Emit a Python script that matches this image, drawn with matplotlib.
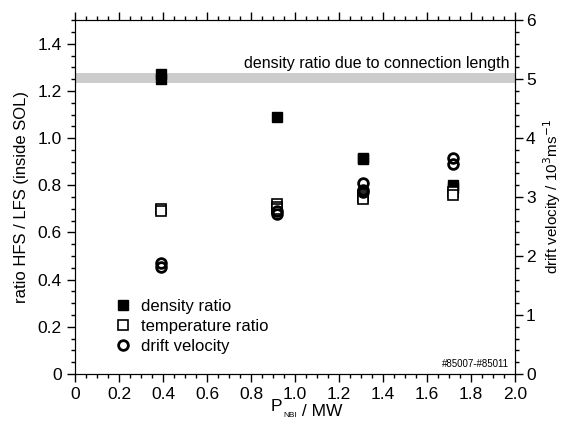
import matplotlib
matplotlib.use("Agg")
import matplotlib.pyplot as plt
from matplotlib.ticker import MultipleLocator

plt.rcParams['font.family'] = ['Liberation Sans', 'DejaVu Sans']
plt.rcParams['font.size'] = 11

# ------------ data ------------
p_dens = [0.39, 0.39, 0.92, 1.31, 1.31, 1.72, 1.72]
dens_ratio = [1.27, 1.25, 1.09, 0.915, 0.91, 0.80, 0.79]

p_temp = [0.39, 0.39, 0.92, 0.92, 0.92, 1.31, 1.31, 1.31, 1.72, 1.72]
temp_ratio = [0.70, 0.69, 0.72, 0.71, 0.70, 0.76, 0.75, 0.74, 0.77, 0.76]

p_drift = [0.39, 0.39, 0.92, 0.92, 1.31, 1.31, 1.31, 1.72, 1.72]
drift_vel = [1.88, 1.82, 2.76, 2.72, 3.24, 3.12, 3.08, 3.66, 3.56]  # 10^3 m/s

band_lo, band_hi = 1.232, 1.274

xt = [0, 0.2, 0.4, 0.6, 0.8, 1.0, 1.2, 1.4, 1.6, 1.8, 2.0]
yt = [0, 0.2, 0.4, 0.6, 0.8, 1.0, 1.2, 1.4]

# ------------ plot ------------
fig = plt.figure(figsize=(5.64, 4.28), dpi=100)
ax = fig.add_axes([0.133, 0.126, 0.780, 0.827])
ax2 = ax.twinx()

ax.axhspan(band_lo, band_hi, color='#cccccc', lw=0, zorder=0)
ax.text(1.975, 1.285, 'density ratio due to connection length',
        ha='right', va='bottom', fontsize=11.5)

ax.plot(p_dens, dens_ratio, ls='none', marker='s', ms=6.5, mfc='black',
        mec='black', label='density ratio')
ax.plot(p_temp, temp_ratio, ls='none', marker='s', ms=6.5, mfc='white',
        mec='black', mew=1.2, label='temperature ratio')
ax2.plot(p_drift, drift_vel, ls='none', marker='o', ms=7, mfc='none',
         mec='black', mew=2)
# proxy for legend
ax.plot([], [], ls='none', marker='o', ms=7, mfc='none', mec='black',
        mew=2, label='drift velocity')

ax.set_xlim(0, 2.0)
ax.set_ylim(0, 1.5)
ax2.set_ylim(0, 6)

ax.xaxis.set_minor_locator(MultipleLocator(0.05))
ax.yaxis.set_minor_locator(MultipleLocator(0.05))
ax2.yaxis.set_major_locator(MultipleLocator(1))
ax2.yaxis.set_minor_locator(MultipleLocator(0.2))

ax.set_xticks(xt)
ax.set_xticklabels(['0'] + ['%.1f' % v for v in xt[1:]])
ax.set_yticks(yt)
ax.set_yticklabels(['0'] + ['%.1f' % v for v in yt[1:]])

for a in (ax, ax2):
    a.tick_params(which='both', direction='out', labelsize=12.5)
    a.tick_params(which='major', length=6, width=1)
    a.tick_params(which='minor', length=3, width=1)
ax.tick_params(which='both', top=True)
ax2.tick_params(which='major', pad=2)

ax.set_ylabel('ratio HFS / LFS (inside SOL)', fontsize=12, labelpad=6)
# right label placed by hand so the superscripts stay inside the figure
fig.text(0.979, 0.54, r'drift velocity / 10$^3$ms$^{-1}$', fontsize=11,
         rotation=90, ha='center', va='center')

# x label with a small subscript
t1 = ax.text(0.445, -0.105, 'P', transform=ax.transAxes, fontsize=12.5,
             ha='left', va='baseline')
t2 = ax.annotate('NBI', xy=(1, 0), xycoords=t1, xytext=(0.5, -2),
                 textcoords='offset points', fontsize=6, va='baseline')
ax.annotate(' / MW', xy=(1, 0), xycoords=t2, xytext=(0, 2),
            textcoords='offset points', fontsize=12.5, va='baseline')

ax.legend(loc='lower left', bbox_to_anchor=(0.055, 0.015), frameon=False,
          fontsize=12, handletextpad=0.6, labelspacing=0.3,
          handlelength=1.0)

ax.text(1.975, 0.02, '#85007-#85011', ha='right', va='bottom', fontsize=7)

fig.savefig('out.png', dpi=100)
